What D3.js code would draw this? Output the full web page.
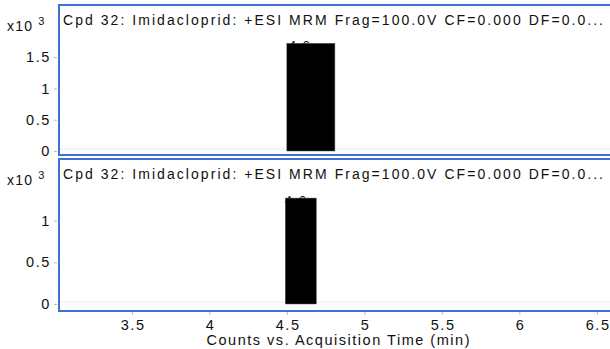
<html>
  <head>
    <script src="https://d3js.org/d3.v7.min.js"></script>
    <style>
      body { margin: 0; background: #fff; }
      text { font-family: "Liberation Sans", Arial, sans-serif; fill: #111; }
    </style>
  </head>
  <body>
    <script>
      // chromatogram data, counts in x10^3
      var panelTitles = [
        "Cpd 32: Imidacloprid: +ESI MRM Frag=100.0V CF=0.000 DF=0.0...",
        "Cpd 32: Imidacloprid: +ESI MRM Frag=100.0V CF=0.000 DF=0.0..."
      ];
      var barStart = [4.50, 4.49];
      var barEnd = [4.81, 4.69];
      var barHeight = [1.72, 1.27];
      var peakLabels = ["4.6", "4.6"];
      var peakLabelX = [4.585, 4.56];
      var yTicksTop = [0, 0.5, 1, 1.5];
      var yTicksBottom = [0, 0.5, 1];
      var xTicks = [3.5, 4, 4.5, 5, 5.5, 6, 6.5];

      var width = 610, height = 349;
      var svg = d3.select("body").append("svg")
        .attr("width", width)
        .attr("height", height);

      var x = d3.scaleLinear().domain([3.03, 6.585]).range([59, 610]);

      // each panel: box top/bottom and where the zero line sits
      var panels = [
        { top: 5, bottom: 155, zero: 151, perUnit: 62.6, ticks: yTicksTop },
        { top: 159, bottom: 311, zero: 304, perUnit: 83.4, ticks: yTicksBottom }
      ];

      panels.forEach(function (p, i) {
        var y = d3.scaleLinear()
          .domain([-(p.bottom - p.zero) / p.perUnit, (p.zero - p.top) / p.perUnit])
          .range([p.bottom, p.top]);

        var g = svg.append("g");

        // faint baseline
        g.append("line")
          .attr("x1", x.range()[0]).attr("x2", width)
          .attr("y1", y(0) - 2).attr("y2", y(0) - 2)
          .attr("stroke", "#ececec").attr("stroke-width", 1);

        // peak label sits under the bar
        g.append("text")
          .attr("x", x(peakLabelX[i]))
          .attr("y", y(barHeight[i]) + 7)
          .attr("text-anchor", "middle")
          .style("font-size", "13px")
          .style("letter-spacing", "1.5px")
          .text(peakLabels[i]);

        g.append("rect")
          .attr("x", x(barStart[i]))
          .attr("width", x(barEnd[i]) - x(barStart[i]))
          .attr("y", y(barHeight[i]))
          .attr("height", y(0) - y(barHeight[i]))
          .attr("fill", "#000")
          .attr("stroke", "#555")
          .attr("stroke-width", 0.5);

        // y axis
        var yAxis = d3.axisLeft(y).tickValues(p.ticks).tickSize(3).tickPadding(3)
          .tickFormat(d3.format("~g"));
        var ya = g.append("g")
          .attr("transform", "translate(" + (x.range()[0] - 2) + ",0)")
          .call(yAxis);
        ya.select(".domain").remove();
        ya.selectAll(".tick line").attr("stroke", "#bbb");
        ya.selectAll(".tick text")
          .style("font-size", "14.5px")
          .style("letter-spacing", "1.6px")
          .style("font-family", "Liberation Sans, Arial, sans-serif")
          .attr("fill", "#111");

        // multiplier
        var mult = g.append("text")
          .attr("x", 7)
          .attr("y", p.top + 26)
          .style("font-size", "14px")
          .style("letter-spacing", "1.2px");
        mult.append("tspan").text("x10 ");
        mult.append("tspan").attr("dy", -6).style("font-size", "11px").text("3");

        // panel frame
        g.append("rect")
          .attr("x", x.range()[0])
          .attr("y", p.top)
          .attr("width", width + 10 - x.range()[0])
          .attr("height", p.bottom - p.top)
          .attr("fill", "none")
          .attr("stroke", "#3d72d0")
          .attr("stroke-width", 2);

        g.append("text")
          .attr("x", 63)
          .attr("y", p.top + 20)
          .attr("textLength", 540)
          .attr("lengthAdjust", "spacing")
          .style("font-size", "14px")
          .text(panelTitles[i]);
      });

      // x axis
      var xAxis = d3.axisBottom(x).tickValues(xTicks).tickSize(3).tickPadding(5)
        .tickFormat(d3.format("~g"));
      var xa = svg.append("g")
        .attr("transform", "translate(0," + 312 + ")")
        .call(xAxis);
      xa.select(".domain").remove();
      xa.selectAll(".tick line").attr("stroke", "#bbb");
      xa.selectAll(".tick text")
        .style("font-size", "14.5px")
        .style("letter-spacing", "1.6px")
        .style("font-family", "Liberation Sans, Arial, sans-serif")
        .attr("dx", "0.8px")
        .attr("fill", "#111");

      svg.append("text")
        .attr("x", 338)
        .attr("y", 345)
        .attr("text-anchor", "middle")
        .attr("textLength", 263)
        .attr("lengthAdjust", "spacing")
        .style("font-size", "14.5px")
        .text("Counts vs. Acquisition Time (min)");
    </script>
  </body>
</html>
